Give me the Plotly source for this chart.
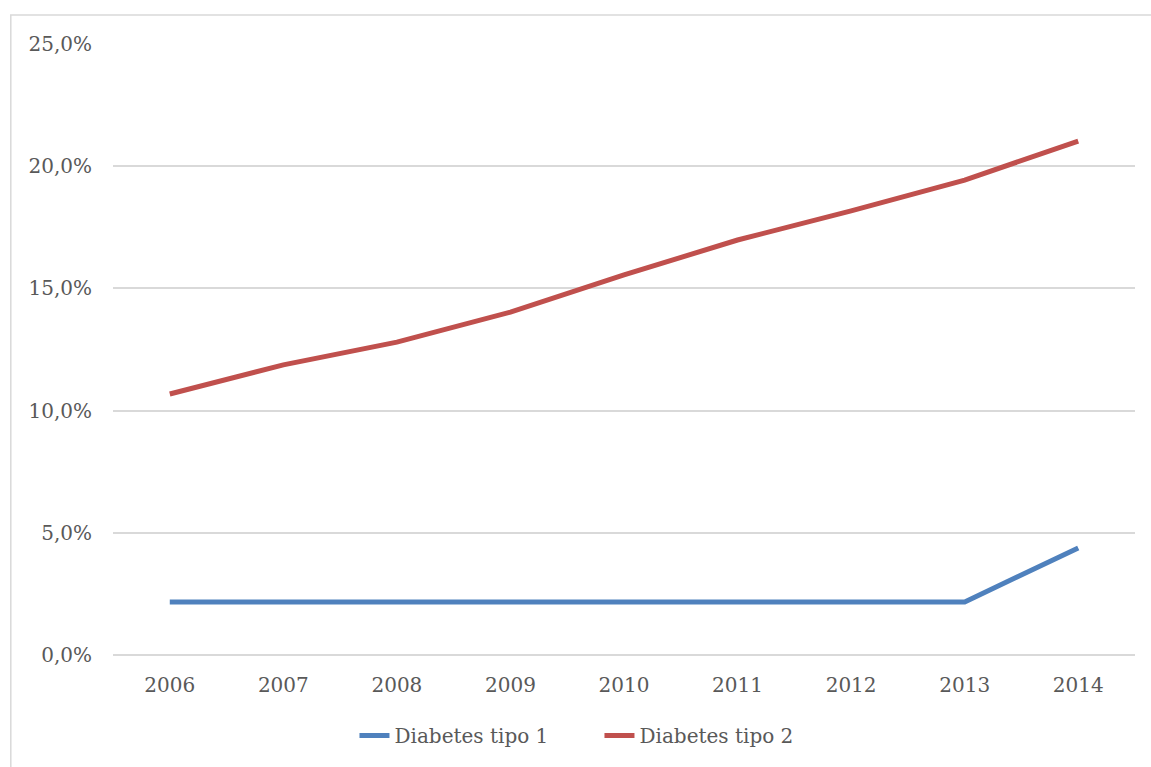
import plotly.graph_objects as go

# Prevalence series by year (fraction of population)
years = ["2006", "2007", "2008", "2009", "2010", "2011", "2012", "2013", "2014"]
tipo1 = [0.0217, 0.0217, 0.0217, 0.0217, 0.0217, 0.0217, 0.0217, 0.0217, 0.0438]
tipo2 = [0.1068, 0.1187, 0.1280, 0.1403, 0.1555, 0.1698, 0.1817, 0.1943, 0.2103]
y_ticks = [0, 0.05, 0.10, 0.15, 0.20, 0.25]

FONT = "DejaVu Serif"
TEXT = "#595959"
GRID = "#d9d9d9"
FS = 20

fig = go.Figure()
fig.add_trace(go.Scatter(
    x=years, y=tipo1, name="Diabetes tipo 1", mode="lines",
    line=dict(color="#4f81bd", width=5),
))
fig.add_trace(go.Scatter(
    x=years, y=tipo2, name="Diabetes tipo 2", mode="lines",
    line=dict(color="#c0504d", width=5),
))

# Outer chart frame
fig.add_shape(
    type="rect", xref="paper", yref="paper",
    x0=-0.1, y0=-0.2, x1=1.03, y1=1.0475,
    line=dict(color=GRID, width=1.5), fillcolor="rgba(0,0,0,0)", layer="below",
)

fig.update_layout(
    width=1151, height=767,
    margin=dict(l=113, r=16, t=44, b=112, autoexpand=False),
    paper_bgcolor="white", plot_bgcolor="white",
    separators=", ",
    font=dict(family=FONT, size=FS, color=TEXT),
    showlegend=True,
    legend=dict(
        orientation="h", x=0.476, xanchor="center", y=-0.1, yanchor="top",
        font=dict(family=FONT, size=FS, color=TEXT),
        entrywidth=200, entrywidthmode="pixels",
    ),
    xaxis=dict(
        type="category", range=[-0.5, 8.5], automargin=False,
        showgrid=False, showline=False, zeroline=False,
        ticks="", tickfont=dict(size=FS, color=TEXT),
        ticklabelstandoff=16,
    ),
    yaxis=dict(
        range=[0, 0.25], tickvals=y_ticks, tickformat=".1%", automargin=False,
        showgrid=True, gridcolor=GRID, gridwidth=1.5,
        zeroline=True, zerolinecolor=GRID, zerolinewidth=1.5,
        showline=False, ticks="", tickfont=dict(size=FS, color=TEXT),
        ticklabelstandoff=20,
    ),
)

fig.write_html("out.html")
